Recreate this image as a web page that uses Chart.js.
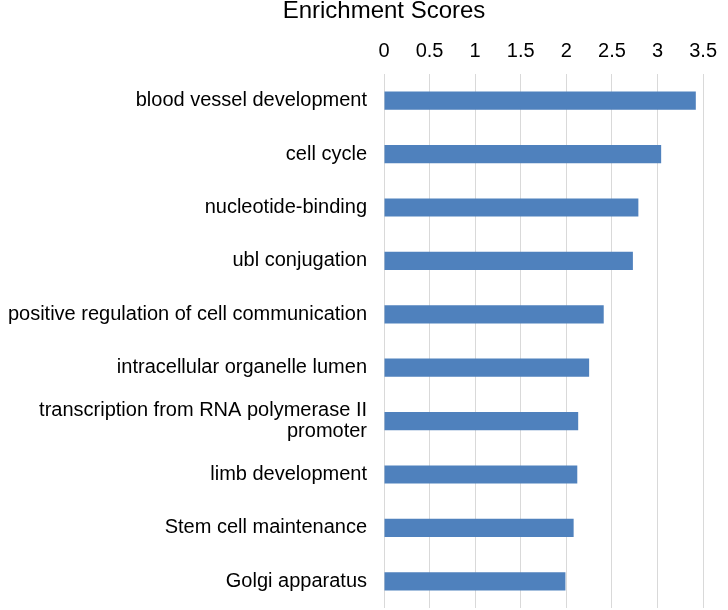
<!DOCTYPE html>
<html>
<head>
<meta charset="utf-8">
<title>Enrichment Scores</title>
<script src="https://cdn.jsdelivr.net/npm/chart.js@4/dist/chart.umd.min.js"></script>
<style>
  html, body { margin: 0; padding: 0; background: #fff; }
  #wrap { width: 728px; height: 610px; position: relative; }
</style>
</head>
<body>
<div id="wrap"><canvas id="enrichChart"></canvas></div>
<script>
// ============================
// DATA
// ============================
const terms = [
  "blood vessel development",
  "cell cycle",
  "nucleotide-binding",
  "ubl conjugation",
  "positive regulation of cell communication",
  "intracellular organelle lumen",
  ["transcription from RNA polymerase II", "promoter"],
  "limb development",
  "Stem cell maintenance",
  "Golgi apparatus",
];
const scores = [3.42, 3.04, 2.79, 2.73, 2.41, 2.25, 2.13, 2.12, 2.08, 1.99];
const scoreTicks = [0, 0.5, 1, 1.5, 2, 2.5, 3, 3.5];

// ============================
// TITLE: centre it over the zero line, like the original
// ============================
const titleOverZero = {
  id: "titleOverZero",
  afterLayout(chart) {
    const block = chart.titleBlock;
    const cx = chart.scales.x.getPixelForValue(0);
    block.left = cx - 130;
    block.right = cx + 130;
    block.width = 260;
  },
};

// ============================
// CHART
// ============================
const ctx = document.getElementById("enrichChart").getContext("2d");
const font = "'Liberation Sans', Arial, sans-serif";

const chart = new Chart(ctx, {
  type: "bar",
  data: {
    labels: terms,
    datasets: [
      {
        data: scores,
        backgroundColor: "#4f81bd",
        borderWidth: 0,
        categoryPercentage: 1,
        barPercentage: 0.34,
      },
    ],
  },
  plugins: [titleOverZero],
  options: {
    indexAxis: "y",
    responsive: true,
    maintainAspectRatio: false,
    animation: false,
    layout: { padding: { top: 0, right: 16, bottom: 2, left: 0 } },
    plugins: {
      legend: { display: false },
      tooltip: { enabled: false },
      title: {
        display: true,
        text: "Enrichment Scores",
        color: "#000",
        font: { family: font, size: 24, weight: "normal", lineHeight: 0.8 },
        padding: { top: 1.5, bottom: 0 },
      },
    },
    scales: {
      x: {
        position: "top",
        min: 0,
        max: 3.5,
        afterBuildTicks: (scale) => {
          scale.ticks = scoreTicks.map((v) => ({ value: v }));
        },
        afterFit: (scale) => {
          scale.height = 74 - 20.7; // plot top at y=74
        },
        ticks: {
          color: "#000",
          font: { family: font, size: 20, lineHeight: 1.2 },
          padding: 11,
          maxRotation: 0,
          callback: (v) => String(v),
        },
        grid: { color: "#d9d9d9", drawTicks: false },
        border: { display: false },
      },
      y: {
        afterFit: (scale) => {
          scale.width = 384; // plot left at x=384
          scale.paddingTop = 0;
          scale.paddingBottom = 0;
        },
        ticks: {
          color: "#000",
          font: { family: font, size: 20, lineHeight: 1.05 },
          padding: 17,
        },
        grid: { display: false, drawTicks: false },
        border: { display: false },
      },
    },
  },
});
</script>
</body>
</html>
